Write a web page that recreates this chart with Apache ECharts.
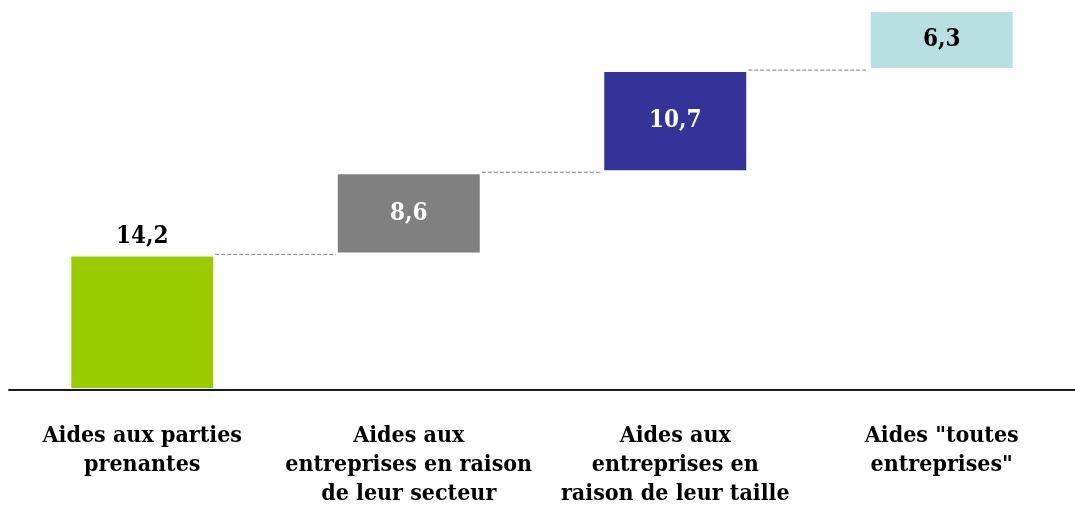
<!DOCTYPE html>
<html>
<head>
<meta charset="utf-8">
<script src="https://cdn.jsdelivr.net/npm/echarts@6/dist/echarts.min.js"></script>
<style>
html,body{margin:0;padding:0;background:#fff;}
#chart{width:1075px;height:509px;}
</style>
</head>
<body>
<div id="chart"></div>
<script>
var categories = [
  'Aides aux parties\nprenantes',
  'Aides aux\nentreprises en raison\nde leur secteur',
  'Aides aux\nentreprises en\nraison de leur taille',
  'Aides "toutes\nentreprises"'
];
var values = [14.2, 8.6, 10.7, 6.3];
var barColors = ['#99cc00', '#808080', '#333399', '#b8e0e3'];
var labelColors = ['#000000', '#ffffff', '#ffffff', '#000000'];
var labelPositions = ['top', 'inside', 'inside', 'inside'];

var FONT = '"DejaVu Serif Condensed", "DejaVu Serif", serif';
var BAR_W = 146;

// cumulative bases for waterfall
var bases = [];
var acc = 0;
values.forEach(function (v) { bases.push(acc); acc += v; });
var tops = values.map(function (v, i) { return bases[i] + v; });
var connectorData = [];
for (var i = 0; i < values.length - 1; i++) connectorData.push([i, tops[i]]);

var chart = echarts.init(document.getElementById('chart'), null, {renderer: 'canvas'});
chart.setOption({
  animation: false,
  grid: {left: 9, right: 0, top: 8, bottom: 115, containLabel: false},
  xAxis: {
    type: 'category',
    data: categories,
    z: 5,
    axisLine: {show: true, lineStyle: {color: '#1a1a1a', width: 2}},
    axisTick: {show: false},
    axisLabel: {
      interval: 0,
      margin: 32,
      fontFamily: FONT,
      fontWeight: 'bold',
      fontSize: 23,
      lineHeight: 29,
      color: '#000',
      align: 'center'
    }
  },
  yAxis: {
    type: 'value', min: 0, max: 40,
    show: false,
    splitLine: {show: false}
  },
  series: [
    {
      type: 'bar', stack: 'w', barWidth: BAR_W,
      itemStyle: {color: 'transparent'},
      emphasis: {disabled: true},
      data: bases
    },
    {
      type: 'bar', stack: 'w', barWidth: BAR_W,
      data: values.map(function (v, i) {
        return {
          value: v,
          itemStyle: {color: barColors[i], borderColor: '#ffffff', borderWidth: 2},
          label: {
            show: true,
            position: labelPositions[i],
            distance: 6,
            color: labelColors[i],
            fontFamily: FONT,
            fontWeight: 'bold',
            fontSize: 24,
            formatter: function (p) { return String(p.value).replace('.', ','); }
          }
        };
      })
    },
    {
      type: 'custom',
      z: 1,
      silent: true,
      data: connectorData,
      renderItem: function (params, api) {
        var p = api.coord([api.value(0), api.value(1)]);
        var band = api.size([1, 0])[0];
        return {
          type: 'line',
          shape: {x1: p[0] + BAR_W / 2, y1: p[1], x2: p[0] + band - BAR_W / 2, y2: p[1]},
          style: {stroke: '#7f7f7f', lineWidth: 1, lineDash: [4, 2]}
        };
      }
    }
  ]
});
</script>
</body>
</html>
